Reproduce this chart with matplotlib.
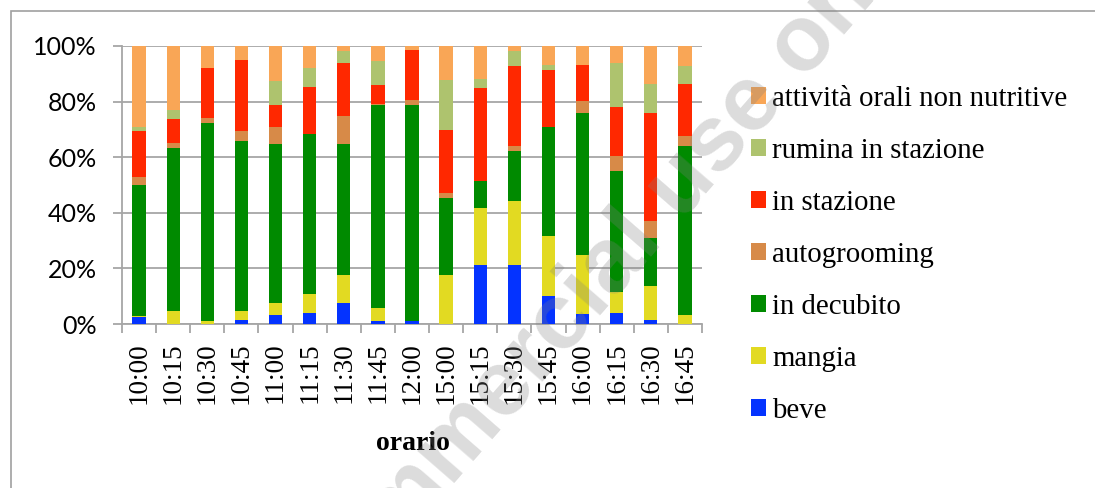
import matplotlib
matplotlib.use("Agg")
import matplotlib.pyplot as plt
import numpy as np
from matplotlib.patches import Rectangle

orari = ['10:00', '10:15', '10:30', '10:45', '11:00', '11:15', '11:30', '11:45', '12:00',
         '15:00', '15:15', '15:30', '15:45', '16:00', '16:15', '16:30', '16:45']

beve = [2.6, 0, 0, 1.3, 3.2, 4.0, 7.7, 1.2, 1.2, 0, 21.2, 21.3, 10.2, 3.6, 4.1, 1.3, 0]
mangia = [0.3, 4.7, 1.2, 3.4, 4.5, 6.7, 9.9, 4.7, 0, 17.6, 20.7, 23.0, 21.4, 21.1, 7.4, 12.4, 3.2]
in_decubito = [47.0, 58.5, 71.1, 61.2, 57.1, 57.8, 47.2, 73.0, 77.6, 27.9, 9.7, 17.9, 39.4, 51.3, 43.6, 17.3, 60.8]
autogrooming = [3.0, 1.8, 1.7, 3.7, 6.1, 0, 9.9, 0.3, 1.6, 1.8, 0, 1.8, 0, 4.1, 5.3, 6.0, 3.7]
in_stazione = [16.6, 8.8, 18.2, 25.4, 8.0, 16.8, 19.2, 6.8, 18.2, 22.5, 33.3, 28.7, 20.4, 13.1, 17.7, 38.9, 18.8]
rumina_in_stazione = [1.4, 3.0, 0, 0, 8.6, 6.7, 4.4, 8.6, 0, 18.1, 3.4, 5.6, 1.8, 0, 15.9, 10.6, 6.2]
attivita_orali = [29.1, 23.2, 7.8, 5.0, 12.5, 8.0, 1.7, 5.4, 1.4, 12.1, 11.7, 1.7, 6.8, 6.8, 6.0, 13.5, 7.3]

series_names = ['beve', 'mangia', 'in decubito', 'autogrooming', 'in stazione',
                'rumina in stazione', 'attività orali non nutritive']
series_values = [beve, mangia, in_decubito, autogrooming, in_stazione,
                 rumina_in_stazione, attivita_orali]
colors = ['#0433FF', '#E2DA22', '#008A00', '#D78A48', '#FF2800', '#AEC36E', '#F9A656']

W, H = 1095, 488
fig = plt.figure(figsize=(W / 100, H / 100), dpi=100)
ax = fig.add_axes([122 / W, (H - 324) / H, (702 - 122) / W, (324 - 46) / H])

grid_c = '#A6A6A6'
x = np.arange(len(orari))
bottom = np.zeros(len(orari))
handles = []
for name, vals, c in zip(series_names, series_values, colors):
    v = np.array(vals, dtype=float)
    b = ax.bar(x, v, width=0.39, bottom=bottom, color=c, label=name, zorder=3, linewidth=0)
    handles.append(b)
    bottom += v

ax.set_xlim(-0.5, len(orari) - 0.5)
ax.set_ylim(0, 100)
ax.set_yticks([0, 20, 40, 60, 80, 100])
ax.set_yticklabels(['0%', '20%', '40%', '60%', '80%', '100%'], fontfamily='Lato', fontsize=18)
ax.yaxis.grid(True, color=grid_c, linewidth=1.3, zorder=0)
ax.tick_params(axis='y', length=6.5, width=1.3, color=grid_c, pad=11.5)

ax.set_xticks(x)
ax.set_xticklabels(orari, rotation=90, fontfamily='Liberation Serif', fontsize=19.5, va='top')
ax.set_xticks(np.arange(-0.5, len(orari)), minor=True)
ax.tick_params(axis='x', which='major', length=0, pad=13.5)
ax.tick_params(axis='x', which='minor', length=6.5, width=1.3, color=grid_c)

for s in ['top', 'right']:
    ax.spines[s].set_visible(False)
for s in ['left', 'bottom']:
    ax.spines[s].set_color(grid_c)
    ax.spines[s].set_linewidth(1.3)
ax.set_axisbelow(True)

fig.text(412.5 / W, (H - 450) / H, 'orario', fontfamily='Liberation Serif', fontweight='bold',
         fontsize=20, ha='center', va='baseline')

leg = fig.legend(handles[::-1], series_names[::-1], loc='upper left',
                 bbox_to_anchor=(751 / W, (H - 86) / H), frameon=False,
                 prop={'family': 'Liberation Serif', 'size': 20.8},
                 handlelength=0.52, handleheight=0.52, handletextpad=0.22,
                 labelspacing=0.9, borderaxespad=0, borderpad=0)

# chart frame
fig.patches.append(Rectangle((10.5 / W, -0.1), 1.2, (H - 11) / H + 0.1, transform=fig.transFigure,
                             fill=False, edgecolor='#A0A0A0', linewidth=1.2))

# watermark
fig.text(326 / W, (H - 632) / H, 'commercial use only', fontfamily='Liberation Sans',
         fontweight='bold', fontsize=67, color='#808080', alpha=0.28, rotation=49,
         rotation_mode='anchor', ha='left', va='baseline', zorder=10)

fig.savefig('out.png', dpi=100)
